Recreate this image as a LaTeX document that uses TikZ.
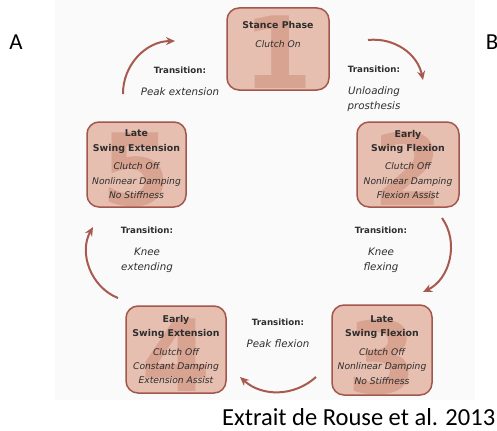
\documentclass[tikz,border=0pt]{standalone}
\usepackage{fontspec}
\setmainfont{DejaVu Sans}[ItalicFont={DejaVu Sans Oblique},BoldItalicFont={DejaVu Sans Bold Oblique}]
\newfontfamily\calibri{Carlito}
\usetikzlibrary{arrows.meta}

\definecolor{boxfill}{HTML}{E6BFB0}
\definecolor{boxline}{HTML}{A3574C}
\definecolor{numcol}{HTML}{D8A390}
\definecolor{arrowcol}{HTML}{A85A4F}
\definecolor{txt}{HTML}{2E2E2E}

\newcommand\phasehead[1]{{\fontsize{9.4}{15}\selectfont\bfseries #1}}
\newcommand\phasebody[1]{{\fontsize{9.2}{14}\selectfont\itshape #1}}
\newcommand\transhead[1]{{\fontsize{8.7}{15}\selectfont\bfseries #1}}
\newcommand\transbody[1]{{\fontsize{10.3}{15}\selectfont\itshape #1}}

\begin{document}
\begin{tikzpicture}[x=1bp,y=1bp,
  phase/.style={draw=boxline, line width=1.5bp, fill=boxfill, rounded corners=12bp,
    minimum width=100bp, minimum height=86bp, align=center, inner sep=0pt, text=txt,
    font=\fontsize{9}{14.5}\selectfont,
    path picture={\node[anchor=base, text=numcol, inner sep=0pt,
      font=\fontsize{100}{100}\selectfont\bfseries]
      at ([yshift=2bp]path picture bounding box.south) {#1};}},
  trans/.style={align=center, text=txt, inner sep=0pt, font=\fontsize{9}{15}\selectfont},
  cycle/.style={draw=arrowcol, line width=2bp, -{Stealth[length=9bp,width=8bp]}},
  label/.style={font=\calibri\fontsize{23}{23}\selectfont, inner sep=0pt}
]
\useasboundingbox (0,0) rectangle (497,430);

\fill[black!2] (55,30) rectangle (475,430);

% phases
\node[phase=1, minimum width=102bp, minimum height=82bp] (s1) at (278,381)
  {\phasehead{Stance Phase}\\[5bp] \phasebody{Clutch On}\\ ~\\ ~};
\node[phase=2, minimum width=102bp, minimum height=85bp] (s2) at (408,265.5)
  {\phasehead{Early}\\ \phasehead{Swing Flexion}\\[4bp]
   \phasebody{Clutch Off}\\ \phasebody{Nonlinear Damping}\\ \phasebody{Flexion Assist}};
\node[phase=3, minimum height=90bp] (s3) at (382,80)
  {\phasehead{Late}\\ \phasehead{Swing Flexion}\\[4bp]
   \phasebody{Clutch Off}\\ \phasebody{Nonlinear Damping}\\ \phasebody{No Stiffness}};
\node[phase=4, minimum height=87bp] (s4) at (176,80.5)
  {\phasehead{Early}\\ \phasehead{Swing Extension}\\[4bp]
   \phasebody{Clutch Off}\\ \phasebody{Constant Damping}\\ \phasebody{Extension Assist}};
\node[phase=5, minimum width=99bp, minimum height=85bp] (s5) at (136.5,265.5)
  {\phasehead{Late}\\ \phasehead{Swing Extension}\\[4bp]
   \phasebody{Clutch Off}\\ \phasebody{Nonlinear Damping}\\ \phasebody{No Stiffness}};

% transitions
\node[trans] (t1) at (180,349)
  {\transhead{Transition:}\\[7bp] \transbody{Peak extension}};
\node[trans] (t2) at (374,341.5)
  {\transhead{Transition:}\\[7bp] \transbody{Unloading}\\ \transbody{prosthesis}};
\node[trans] (t3) at (381,180.5)
  {\transhead{Transition:}\\[7bp] \transbody{Knee}\\ \transbody{flexing}};
\node[trans] (t4) at (278,96.5)
  {\transhead{Transition:}\\[7bp] \transbody{Peak flexion}};
\node[trans] (t5) at (147,180.5)
  {\transhead{Transition:}\\[7bp] \transbody{Knee}\\ \transbody{extending}};

\coordinate (a1s) at (123,336);  \coordinate (a1e) at (175,389);
\coordinate (a2s) at (368,390);  \coordinate (a2e) at (423,350);
\coordinate (a3s) at (442,212);  \coordinate (a3e) at (423,138);
\coordinate (a4s) at (316,53);   \coordinate (a4e) at (240,53);
\coordinate (a5s) at (118,132);  \coordinate (a5e) at (93,203);

\draw[cycle] (a1s) to[bend left=45] (a1e);
\draw[cycle] (a2s) to[bend left=42] (a2e);
\draw[cycle] (a3s) to[bend left=50] (a3e);
\draw[cycle] (a4s) to[bend left=42] (a4e);
\draw[cycle] (a5s) to[bend left=49] (a5e);

\node[label] (la) at (16,388) {A};
\node[label] (lb) at (492,388) {B};
\node[label, anchor=base west, font=\calibri\fontsize{24.6}{25}\selectfont] (src) at (222,5)
  {Extrait de Rouse et al. 2013};

\end{tikzpicture}
\end{document}
